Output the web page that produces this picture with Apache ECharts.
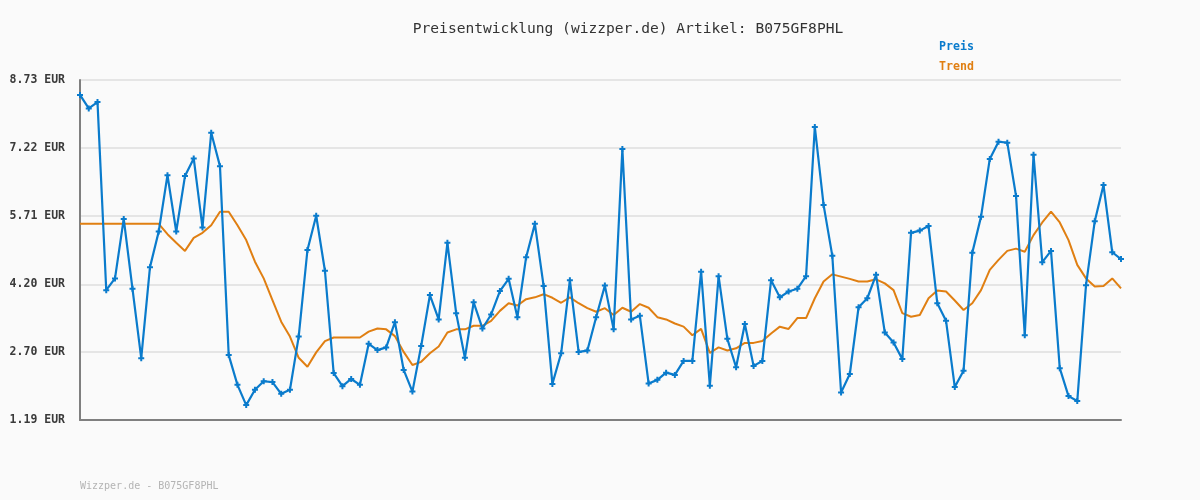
<!DOCTYPE html>
<html>
<head>
<meta charset="utf-8">
<script src="https://cdn.jsdelivr.net/npm/echarts@6/dist/echarts.min.js"></script>
<style>
html,body{margin:0;padding:0;background:#fafafa;}
#chart{width:1200px;height:500px;}
</style>
</head>
<body>
<div id="chart"></div>
<script>
const titleText = 'Preisentwicklung (wizzper.de) Artikel: B075GF8PHL';
const footerText = 'Wizzper.de - B075GF8PHL';
const seriesNames = ['Preis', 'Trend'];
const yTicks = [1.19, 2.70, 4.20, 5.71, 7.22, 8.73];
const yTickLabels = ['1.19 EUR', '2.70 EUR', '4.20 EUR', '5.71 EUR', '7.22 EUR', '8.73 EUR'];

const preis = [
  8.40, 8.10, 8.24, 4.07, 4.33, 5.65, 4.10, 2.56, 4.58, 5.37,
  6.62, 5.37, 6.60, 6.99, 5.46, 7.56, 6.82, 2.63, 1.97, 1.52,
  1.86, 2.05, 2.03, 1.77, 1.86, 3.04, 4.96, 5.72, 4.50, 2.23,
  1.94, 2.10, 1.97, 2.88, 2.74, 2.80, 3.36, 2.30, 1.82, 2.83,
  3.96, 3.42, 5.12, 3.56, 2.57, 3.80, 3.22, 3.53, 4.05, 4.32,
  3.47, 4.80, 5.54, 4.16, 1.99, 2.67, 4.29, 2.70, 2.73, 3.47,
  4.17, 3.20, 7.20, 3.42, 3.50, 2.00, 2.08, 2.24, 2.19, 2.50,
  2.50, 4.48, 1.95, 4.38, 2.99, 2.36, 3.32, 2.39, 2.50, 4.29,
  3.91, 4.04, 4.10, 4.38, 7.69, 5.96, 4.83, 1.80, 2.21, 3.69,
  3.89, 4.41, 3.13, 2.91, 2.54, 5.34, 5.39, 5.49, 3.78, 3.39,
  1.92, 2.28, 4.90, 5.70, 6.98, 7.36, 7.34, 6.16, 3.07, 7.07,
  4.69, 4.94, 2.34, 1.72, 1.61, 4.18, 5.60, 6.40, 4.91, 4.76
];

const trend = [
  5.54, 5.54, 5.54, 5.54, 5.54, 5.54, 5.54, 5.54, 5.54, 5.54,
  5.31, 5.12, 4.94, 5.23, 5.34, 5.51, 5.81, 5.81, 5.51, 5.18,
  4.70, 4.33, 3.85, 3.37, 3.04, 2.57, 2.37, 2.69, 2.94, 3.02,
  3.02, 3.02, 3.02, 3.15, 3.22, 3.20, 3.05, 2.70, 2.41, 2.48,
  2.67, 2.82, 3.13, 3.20, 3.20, 3.28, 3.28, 3.39, 3.61, 3.78,
  3.73, 3.87, 3.91, 3.98, 3.90, 3.79, 3.91, 3.78, 3.67, 3.59,
  3.67, 3.52, 3.68, 3.59, 3.76, 3.68, 3.47, 3.42, 3.33, 3.26,
  3.07, 3.21, 2.68, 2.80, 2.73, 2.78, 2.90, 2.90, 2.94, 3.11,
  3.26, 3.21, 3.45, 3.45, 3.89, 4.26, 4.42, 4.37, 4.32, 4.26,
  4.26, 4.31, 4.22, 4.07, 3.56, 3.48, 3.52, 3.89, 4.06, 4.04,
  3.84, 3.63, 3.78, 4.07, 4.52, 4.74, 4.94, 4.99, 4.92, 5.29,
  5.57, 5.81, 5.57, 5.18, 4.63, 4.33, 4.15, 4.16, 4.33, 4.11
];

const categories = preis.map((_, i) => String(i + 1));

const BLUE = '#0a7bcc';
const ORANGE = '#e07f12';
const MONO = '"DejaVu Sans Mono", "Liberation Mono", monospace';

const chart = echarts.init(document.getElementById('chart'), null, {renderer: 'canvas'});
chart.setOption({
  backgroundColor: '#fafafa',
  animation: false,
  title: {
    text: titleText,
    left: 623,
    textAlign: 'center',
    top: 17,
    textStyle: {fontFamily: MONO, fontSize: 14.6, fontWeight: 'normal', color: '#333333'}
  },
  legend: {
    orient: 'vertical',
    left: 939,
    top: 41,
    icon: 'none',
    itemWidth: 0,
    itemHeight: 12,
    itemGap: 8,
    padding: 0,
    data: [
      {name: seriesNames[0], textStyle: {color: BLUE}},
      {name: seriesNames[1], textStyle: {color: ORANGE}}
    ],
    textStyle: {fontFamily: MONO, fontSize: 11.6, fontWeight: 'bold', padding: [0, 0, 0, -5]}
  },
  graphic: [{
    type: 'text',
    left: 80,
    top: 481,
    style: {text: footerText, fill: '#b4b4b4', font: '10px ' + MONO}
  }],
  grid: {left: 80, right: 79, top: 80, bottom: 80, containLabel: false},
  xAxis: {
    type: 'category',
    data: categories,
    boundaryGap: false,
    axisLine: {show: true, lineStyle: {color: '#7f7f7f', width: 2}},
    axisTick: {show: false},
    axisLabel: {show: false},
    splitLine: {show: false}
  },
  yAxis: {
    type: 'value',
    min: yTicks[0],
    max: yTicks[yTicks.length - 1],
    axisLine: {show: true, lineStyle: {color: '#7f7f7f', width: 2}},
    axisTick: {show: false, customValues: yTicks},
    axisLabel: {
      customValues: yTicks,
      margin: 15,
      fontFamily: MONO,
      fontSize: 11.5,
      fontWeight: 'bold',
      color: '#3a3a3a',
      formatter: function (v) {
        const i = yTicks.findIndex(t => Math.abs(t - v) < 1e-6);
        return i >= 0 ? yTickLabels[i] : '';
      }
    },
    splitLine: {show: true, lineStyle: {color: '#e5e5e5', width: 2}}
  },
  series: [
    {
      name: seriesNames[0],
      type: 'line',
      data: preis,
      symbol: 'path://M2,0H4V2H6V4H4V6H2V4H0V2H2Z',
      symbolSize: 6,
      showAllSymbol: true,
      lineStyle: {color: BLUE, width: 2.2},
      itemStyle: {color: BLUE},
      z: 3
    },
    {
      name: seriesNames[1],
      type: 'line',
      data: trend,
      symbol: 'none',
      lineStyle: {color: ORANGE, width: 2},
      itemStyle: {color: ORANGE},
      z: 2
    }
  ]
});
</script>
</body>
</html>
